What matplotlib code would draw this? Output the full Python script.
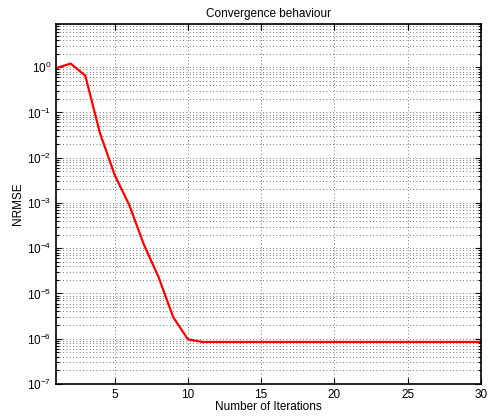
import numpy as np
import matplotlib
matplotlib.use('Agg')
import matplotlib.pyplot as plt
from matplotlib.ticker import LogLocator, NullFormatter, FixedLocator

plt.rcParams['font.family'] = ['Liberation Sans', 'DejaVu Sans']

# data
iterations = list(range(1, 31))
nrmse = [0.95, 1.2, 0.65, 0.035, 0.0042, 9e-4, 1.2e-4, 2.3e-5, 3e-6, 9.7e-7,
         8.5e-7] + [8.5e-7] * 19
x_ticks = [5, 10, 15, 20, 25, 30]
y_ticks = [1e-7, 1e-6, 1e-5, 1e-4, 1e-3, 1e-2, 1e-1, 1e0]

fig = plt.figure(figsize=(4.89, 4.2), dpi=100)
ax = fig.add_axes([0.1145, 0.0857, 0.8691, 0.8572])

ax.plot(iterations, nrmse, color='red', lw=1.6)    # convergence curve

ax.set_yscale('log')
ax.set_xlim(1, 30)
ax.set_ylim(1e-7, 9)
ax.xaxis.set_major_locator(FixedLocator(x_ticks))
ax.yaxis.set_major_locator(FixedLocator(y_ticks))
ax.yaxis.set_minor_locator(LogLocator(base=10, subs=np.arange(2, 10), numticks=20))
ax.yaxis.set_minor_formatter(NullFormatter())

# matlab style dotted grid
dots = (0, (1, 3))
ax.grid(True, which='major', axis='both', ls=dots, color='0.3', lw=0.6)
ax.grid(True, which='minor', axis='y', ls=dots, color='0.3', lw=0.6)

ax.tick_params(which='both', direction='in', top=True, right=True, labelsize=8.5,
               width=0.8)
ax.tick_params(which='major', length=4)
ax.tick_params(which='minor', length=2)
for s in ax.spines.values():
    s.set_linewidth(1.2)

ax.set_title('Convergence behaviour', fontsize=8.5, pad=5)
ax.set_xlabel('Number of Iterations', fontsize=8.5, labelpad=0)
ax.set_ylabel('NRMSE', fontsize=8.5, labelpad=2)

fig.savefig('out.png', dpi=100)
